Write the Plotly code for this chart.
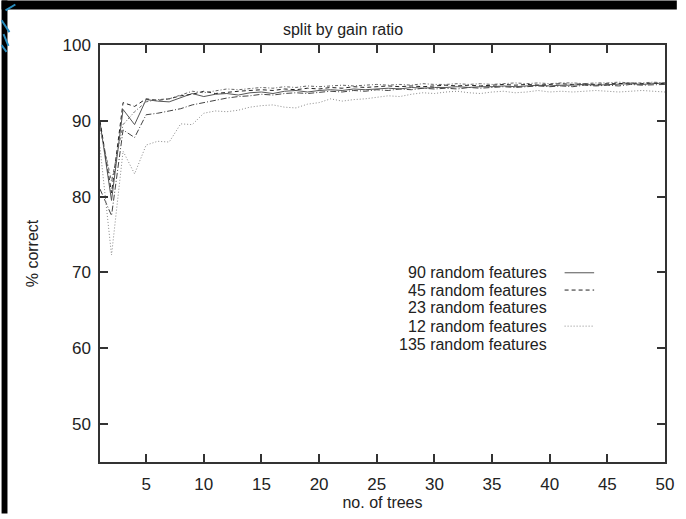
import plotly.graph_objects as go

trees = list(range(1, 51))

feat90 = [89.8, 79.5, 91.5, 89.5, 92.8, 92.6, 92.5, 93.0, 93.6, 93.2, 93.5, 93.6, 93.4, 93.7, 93.8, 93.6, 93.9, 94.0, 93.8, 94.0,
          94.1, 94.0, 94.2, 94.1, 94.2, 94.3, 94.2, 94.4, 94.3, 94.4, 94.4, 94.5, 94.4, 94.5, 94.5, 94.6, 94.5, 94.6, 94.7, 94.6,
          94.7, 94.7, 94.8, 94.7, 94.8, 94.8, 94.9, 94.8, 94.9, 95.0]
feat45 = [90.0, 80.5, 92.4, 91.9, 92.9, 92.7, 92.9, 93.3, 93.5, 93.9, 93.6, 93.8, 93.9, 94.0, 94.1, 94.0, 94.2, 94.1, 94.3, 94.2,
          94.4, 94.3, 94.5, 94.4, 94.5, 94.6, 94.5, 94.6, 94.5, 94.6, 94.7, 94.6, 94.7, 94.6, 94.7, 94.8, 94.7, 94.8, 94.7, 94.8,
          94.9, 94.8, 94.9, 94.8, 94.9, 94.9, 95.0, 94.9, 95.0, 94.9]
feat23 = [81.0, 77.5, 88.8, 87.8, 90.8, 91.0, 91.3, 91.6, 92.1, 92.4, 92.8, 93.0, 93.2, 93.3, 93.5, 93.4, 93.6, 93.7, 93.6, 93.8,
          93.9, 93.8, 94.0, 93.9, 94.1, 94.0, 94.2, 94.1, 94.3, 94.2, 94.3, 94.2, 94.4, 94.3, 94.4, 94.5, 94.4, 94.5, 94.6, 94.5,
          94.6, 94.5, 94.7, 94.6, 94.7, 94.6, 94.8, 94.7, 94.7, 94.8]
feat12 = [86.5, 72.3, 86.0, 83.0, 86.8, 87.3, 87.2, 89.6, 89.5, 91.0, 91.3, 91.2, 91.4, 91.8, 92.0, 92.1, 91.8, 91.7, 92.2, 92.4,
          92.9, 92.6, 92.8, 92.9, 93.1, 93.3, 93.2, 93.5, 93.7, 93.6, 93.8, 93.9, 93.7, 93.6, 93.8, 93.9, 93.7, 93.8, 94.0, 93.8,
          93.9, 93.8, 93.9, 94.0, 93.9, 93.8, 93.9, 94.0, 93.9, 93.8]
feat135 = [89.0, 82.0, 89.5, 91.2, 92.5, 92.8, 92.9, 93.4, 93.9, 93.7, 94.0, 94.2, 94.1, 94.3, 94.4, 94.3, 94.5, 94.4, 94.6, 94.5,
           94.6, 94.7, 94.6, 94.7, 94.8, 94.7, 94.8, 94.7, 94.9, 94.8, 94.8, 94.9, 94.8, 94.9, 94.8, 94.9, 95.0, 94.9, 95.0, 94.9,
           95.0, 95.0, 94.9, 95.0, 95.0, 95.1, 95.0, 95.0, 95.1, 95.0]

series_names = ["90 random features", "45 random features", "23 random features",
                "12 random features", "135 random features"]
series_values = [feat90, feat45, feat23, feat12, feat135]
x_ticks = [5, 10, 15, 20, 25, 30, 35, 40, 45, 50]
y_ticks = [50, 60, 70, 80, 90, 100]

styles = [
    dict(color="#555555", dash="solid"),
    dict(color="#222222", dash="4px,3px"),
    dict(color="#444444", dash="6px,2px,1px,2px"),
    dict(color="#8a8a8a", dash="1px,2px"),
    dict(color="#666666", dash="3px,2px,1px,2px"),
]

W, H = 686, 519
ML, MR, MT, MB = 100, 12, 45, 52
PW, PH = W - ML - MR, H - MT - MB

def px(xp):
    return (xp - ML) / PW

def py(yp):
    return 1 - (yp - MT) / PH

fig = go.Figure()
for name, vals, st in zip(series_names, series_values, styles):
    fig.add_trace(go.Scatter(x=trees, y=vals, mode="lines", name=name,
                             line=dict(color=st["color"], dash=st["dash"], width=1),
                             showlegend=False))

font = "Liberation Sans, Arial, Helvetica, sans-serif"
axis_common = dict(showline=True, linecolor="#333333", linewidth=1.5, mirror="ticks",
                   ticks="inside", ticklen=8, tickwidth=1.5, tickcolor="#333333",
                   showgrid=False, zeroline=False,
                   tickfont=dict(family=font, size=17, color="#222222"))

fig.update_layout(
    width=W, height=H,
    margin=dict(l=ML, r=MR, t=MT, b=MB),
    paper_bgcolor="white", plot_bgcolor="white",
    title=dict(text="split by gain ratio", x=px(387), xanchor="center", y=1 - 29 / H, yanchor="middle",
               font=dict(family=font, size=16, color="#222222")),
    xaxis=dict(range=[1, 50], tickvals=x_ticks, ticklabelstandoff=6,
               title=dict(text="no. of trees", font=dict(family=font, size=16, color="#222222"), standoff=2),
               **axis_common),
    yaxis=dict(range=[45, 100], tickvals=y_ticks, ticklabelstandoff=4,
               title=dict(text="% correct", font=dict(family=font, size=16, color="#222222"), standoff=20),
               **axis_common),
    showlegend=False,
)

legend_rows = [275.5, 293, 311, 329.5, 348]
for name, yy in zip(series_names, legend_rows):
    fig.add_annotation(text=name, xref="paper", yref="paper", x=px(556), y=py(yy),
                       xanchor="right", yanchor="middle", showarrow=False,
                       font=dict(family=font, size=16, color="#222222"))

# legend samples (only those visible in reference)
for idx in [0, 1, 3]:
    st = styles[idx]
    fig.add_shape(type="line", xref="paper", yref="paper",
                  x0=px(572), x1=px(602), y0=py(legend_rows[idx]), y1=py(legend_rows[idx]),
                  line=dict(color=st["color"], dash=st["dash"], width=1))

# dark frame strips (top and left of the screenshot)
fig.add_shape(type="rect", xref="paper", yref="paper", x0=px(0), x1=px(W), y0=py(0), y1=py(9),
              fillcolor="black", line=dict(width=0), layer="above")
fig.add_shape(type="rect", xref="paper", yref="paper", x0=px(0), x1=px(6), y0=py(0), y1=py(H),
              fillcolor="black", line=dict(width=0), layer="above")
# bluish swirl hint in the corner
for (xa, ya, xb, yb) in [(0, 20, 8, 32), (2, 34, 7, 46), (4, 10, 14, 4), (0, 45, 5, 52)]:
    fig.add_shape(type="line", xref="paper", yref="paper", x0=px(xa), y0=py(ya), x1=px(xb), y1=py(yb),
                  line=dict(color="#2a8fc0", width=2), layer="above")

fig.write_html("out.html")
